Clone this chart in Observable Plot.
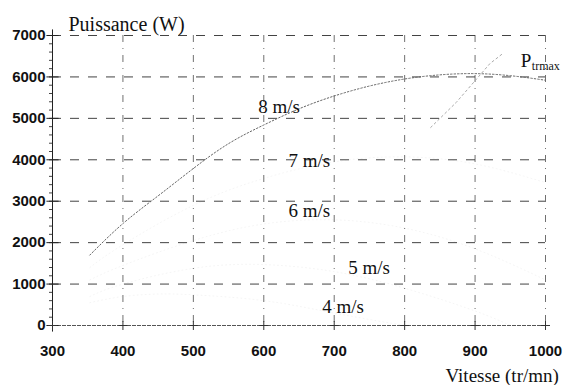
<!DOCTYPE html>
<html><head><meta charset="utf-8">
<script src="https://cdn.jsdelivr.net/npm/d3@7"></script>
<script src="https://cdn.jsdelivr.net/npm/@observablehq/plot@0.6"></script>
<style>
html,body{margin:0;padding:0;background:#fff;overflow:hidden}
#chart svg{display:block;overflow:hidden}
</style>
</head><body><div id="chart"></div>
<script>
// Tick values
const xTicks = [300, 400, 500, 600, 700, 800, 900, 1000];
const yTicks = [0, 1000, 2000, 3000, 4000, 5000, 6000, 7000];
const yMinorTicks = d3.range(0, 7001, 200);

// 8 m/s power curve (visible)
const speed8 = [353, 400, 450, 500, 550, 600, 650, 700, 750, 800, 850, 900, 950, 1000];
const power8 = [1700, 2460, 3130, 3790, 4390, 4840, 5230, 5540, 5780, 5950, 6050, 6080, 6030, 5920];

// faint curves (barely visible in the scan)
const speed7 = [353, 400, 500, 600, 700, 800, 900, 1000];
const power7 = [1400, 1950, 2900, 3550, 3950, 4070, 3900, 3450];
const speed6 = [353, 400, 500, 600, 700, 800, 900, 1000];
const power6 = [1100, 1450, 2050, 2450, 2550, 2350, 1850, 1100];
const speed5 = [353, 400, 500, 600, 700, 800, 900, 950];
const power5 = [700, 1000, 1380, 1470, 1300, 900, 350, 0];
const speed4 = [353, 400, 450, 500, 600, 700, 800];
const power4 = [550, 700, 760, 740, 600, 300, 0];

// Ptrmax curve (visible segment)
const speedPmax = [837, 873, 921, 939];
const powerPmax = [4780, 5380, 6320, 6560];

// Annotations
const windLabels = ["8 m/s", "7 m/s", "6 m/s", "5 m/s", "4 m/s"];
const windLabelX = [592, 635, 635, 720, 683];
const windLabelY = [5141, 3814, 2607, 1255, 290];
const pmaxLabelX = [965];
const pmaxLabelY = [6228];

const toPts = (xs, ys) => xs.map((x, i) => ({x, y: ys[i]}));
const serif = "Liberation Serif";
const sans = "Liberation Sans";

const faint = [[speed7, power7], [speed6, power6], [speed5, power5], [speed4, power4]];

const chart = Plot.plot({
  width: 563,
  height: 385,
  marginLeft: 52,
  marginRight: 18,
  marginTop: 35,
  marginBottom: 60,
  style: {background: "#fff", color: "#111", overflow: "hidden"},
  x: {domain: [300, 1000], label: null},
  y: {domain: [0, 7000], label: null},
  marks: [
    // grid
    Plot.ruleY(yTicks.filter(d => d > 0), {stroke: "#222", strokeWidth: 1, strokeDasharray: "9,9", strokeOpacity: 0.85}),
    Plot.ruleX(xTicks.filter(d => d > 300), {stroke: "#333", strokeWidth: 1, strokeDasharray: "7,6,1,6", strokeOpacity: 0.7}),
    // faint curves
    ...faint.map(([xs, ys]) => Plot.line(toPts(xs, ys), {x: "x", y: "y", curve: "natural", stroke: "#999", strokeOpacity: 0.1, strokeWidth: 1, strokeDasharray: "1,3"})),
    // 8 m/s curve
    Plot.line(toPts(speed8, power8), {x: "x", y: "y", curve: "natural", stroke: "#666", strokeWidth: 1, strokeDasharray: "1.5,2"}),
    // Ptrmax
    Plot.line(toPts(speedPmax, powerPmax), {x: "x", y: "y", stroke: "#aaa", strokeWidth: 1, strokeDasharray: "2,3"}),
    // axes lines
    Plot.ruleY([0], {stroke: "#555", strokeWidth: 1.2, strokeDasharray: "4,1"}),
    Plot.ruleX([300], {stroke: "#222", strokeWidth: 1}),
    Plot.axisY(yMinorTicks, {tickSize: 3, tickFormat: () => "", stroke: "#444", label: null}),
    Plot.dot(yTicks, {x: () => 300, y: d => d, symbol: "plus", r: 4, stroke: "#222", strokeWidth: 1}),
    Plot.dot(xTicks, {x: d => d, y: () => 0, symbol: "plus", r: 3, stroke: "#333", strokeWidth: 1}),
    Plot.axisY(yTicks, {tickSize: 0, tickPadding: 7, tickFormat: d => String(d), fontSize: 15, fontWeight: "bold", fontFamily: sans, fill: "#111", label: null}),
    Plot.axisX(xTicks, {tickSize: 0, tickPadding: 20, tickFormat: d => String(d), fontSize: 15, fontWeight: "bold", fontFamily: sans, fill: "#111", label: null}),
    // titles
    Plot.text(["Puissance (W)"], {frameAnchor: "top-left", textAnchor: "start", lineAnchor: "bottom", dx: 16, dy: -5, fontSize: 20, fontFamily: serif, fill: "#111"}),
    Plot.text(["Vitesse (tr/mn)"], {frameAnchor: "bottom-left", textAnchor: "start", lineAnchor: "bottom", dx: 393, dy: 56, fontSize: 19, fontFamily: serif, fill: "#111"}),
    // annotations
    Plot.text(windLabels, {x: (d, i) => windLabelX[i], y: (d, i) => windLabelY[i], text: d => d, textAnchor: "start", lineAnchor: "bottom", fontSize: 19, fontFamily: serif, fill: "#111"}),
    Plot.text(["P"], {x: () => pmaxLabelX[0], y: () => pmaxLabelY[0], textAnchor: "start", lineAnchor: "bottom", fontSize: 19, fontFamily: serif, fill: "#111"}),
    Plot.text(["trmax"], {x: () => pmaxLabelX[0], y: () => pmaxLabelY[0], textAnchor: "start", lineAnchor: "bottom", dx: 11, dy: 3, fontSize: 12, fontFamily: serif, fill: "#111"})
  ]
});
// make sure serif texts get the serif face
d3.select(chart).selectAll('g[aria-label="text"] text').style("font-family", "'Liberation Serif', 'Times New Roman', serif");
d3.select(chart).selectAll('g[aria-label="y-axis tick label"] text, g[aria-label="x-axis tick label"] text').style("font-family", "'Liberation Sans', Arial, sans-serif");
document.getElementById("chart").appendChild(chart);
</script>
</body></html>
